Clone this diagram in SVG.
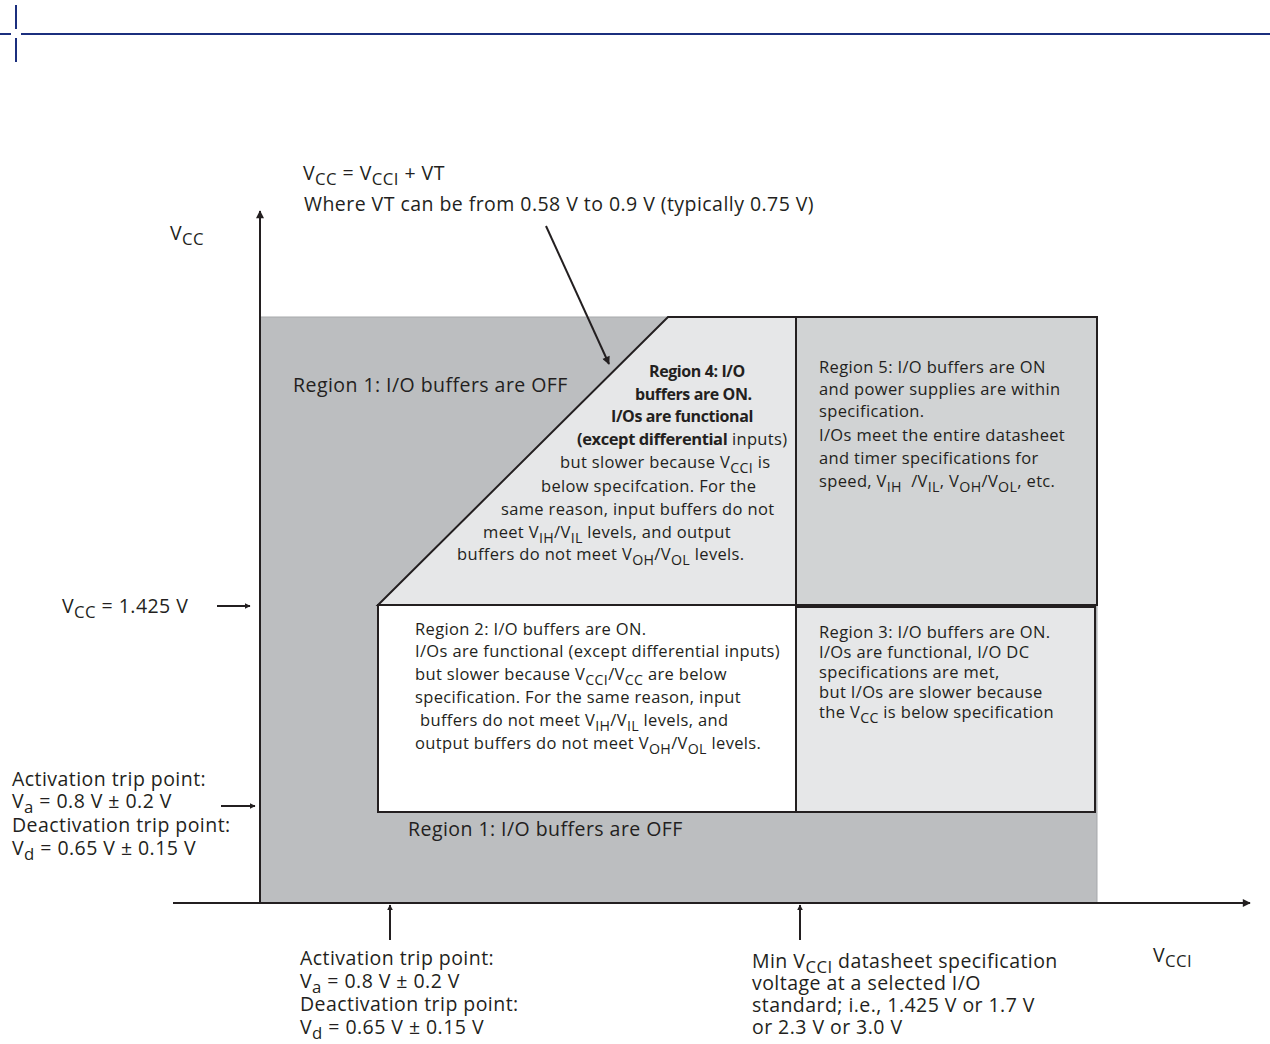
<svg xmlns="http://www.w3.org/2000/svg" width="1270" height="1044" viewBox="0 0 1270 1044">
<defs>
<style>
text{font-family:"Open Sans","Noto Sans","Liberation Sans",sans-serif;fill:#231f20}
.big{font-size:19.5px;letter-spacing:0.45px}
.mid{font-size:16.5px;letter-spacing:0.35px}
.b{font-weight:bold;font-size:16px;letter-spacing:-0.4px}
tspan.b{font-size:1em}
.s{font-size:0.86em}
.ax{stroke:#231f20;stroke-width:2;fill:none}
.rg{stroke:#231f20;stroke-width:2}
</style>
<marker id="ah" viewBox="0 0 10 10" refX="9" refY="5" markerWidth="6" markerHeight="6" markerUnits="userSpaceOnUse" orient="auto">
<path d="M0,0 L10,5 L0,10 z" fill="#231f20"/>
</marker>
<marker id="ahs" viewBox="0 0 10 10" refX="9" refY="5" markerWidth="14" markerHeight="8" orient="auto" markerUnits="userSpaceOnUse">
<path d="M0,0 L10,5 L0,10 z" fill="#231f20"/>
</marker>
</defs>
<rect width="1270" height="1044" fill="#fff"/>

<g id="header">
<line x1="0" y1="34" x2="11" y2="34" stroke="#1b2f7e" stroke-width="2"/>
<line x1="21" y1="34" x2="1270" y2="34" stroke="#1b2f7e" stroke-width="2"/>
<line x1="16" y1="5" x2="16" y2="29" stroke="#1b2f7e" stroke-width="2"/>
<line x1="16" y1="38" x2="16" y2="62" stroke="#1b2f7e" stroke-width="2"/>
</g>

<g id="region1">
<rect x="260" y="317" width="837" height="586" fill="#bcbec0" stroke="#a7a9ac" stroke-width="1"/>
<text class="big" x="293" y="392">Region 1: I/O buffers are OFF</text>
<text class="big" x="408" y="836">Region 1: I/O buffers are OFF</text>
</g>

<g id="region4">
<polygon points="668,317 796,317 796,605 378,605" fill="#e6e7e8" class="rg"/>
<text class="mid b" x="649" y="377">Region 4: I/O</text>
<text class="mid b" x="635" y="400">buffers are ON.</text>
<text class="mid b" x="611" y="422">I/Os are functional</text>
<text class="mid" x="577" y="445"><tspan class="b">(except differential</tspan> inputs)</text>
<text class="mid" x="560" y="468">but slower because V<tspan class="s" dy="5">CCI</tspan><tspan dy="-5"> is</tspan></text>
<text class="mid" x="541" y="492">below specifcation. For the</text>
<text class="mid" x="501" y="515">same reason, input buffers do not</text>
<text class="mid" x="483" y="538">meet V<tspan class="s" dy="5">IH</tspan><tspan dy="-5">/V</tspan><tspan class="s" dy="5">IL</tspan><tspan dy="-5"> levels, and output</tspan></text>
<text class="mid" x="457" y="560">buffers do not meet V<tspan class="s" dy="5">OH</tspan><tspan dy="-5">/V</tspan><tspan class="s" dy="5">OL</tspan><tspan dy="-5"> levels.</tspan></text>
</g>

<g id="region5">
<rect x="796" y="317" width="301" height="288" fill="#d1d3d4" class="rg"/>
<text class="mid" x="819" y="373">Region 5: I/O buffers are ON</text>
<text class="mid" x="819" y="395">and power supplies are within</text>
<text class="mid" x="819" y="417">specification.</text>
<text class="mid" x="819" y="441">I/Os meet the entire datasheet</text>
<text class="mid" x="819" y="464">and timer specifications for</text>
<text class="mid" x="819" y="487">speed, V<tspan class="s" dy="5">IH</tspan><tspan dy="-5">&#160;&#160;/V</tspan><tspan class="s" dy="5">IL</tspan><tspan dy="-5">, V</tspan><tspan class="s" dy="5">OH</tspan><tspan dy="-5">/V</tspan><tspan class="s" dy="5">OL</tspan><tspan dy="-5">, etc.</tspan></text>
</g>

<g id="region2">
<rect x="378" y="605" width="418" height="207" fill="#ffffff" class="rg"/>
<text class="mid" x="415" y="635">Region 2: I/O buffers are ON.</text>
<text class="mid" x="415" y="657">I/Os are functional (except differential inputs)</text>
<text class="mid" x="415" y="680">but slower because V<tspan class="s" dy="5">CCI</tspan><tspan dy="-5">/V</tspan><tspan class="s" dy="5">CC</tspan><tspan dy="-5"> are below</tspan></text>
<text class="mid" x="415" y="703">specification. For the same reason, input</text>
<text class="mid" x="420" y="726">buffers do not meet V<tspan class="s" dy="5">IH</tspan><tspan dy="-5">/V</tspan><tspan class="s" dy="5">IL</tspan><tspan dy="-5"> levels, and</tspan></text>
<text class="mid" x="415" y="749">output buffers do not meet V<tspan class="s" dy="5">OH</tspan><tspan dy="-5">/V</tspan><tspan class="s" dy="5">OL</tspan><tspan dy="-5"> levels.</tspan></text>
</g>

<g id="region3">
<rect x="796" y="607" width="299" height="205" fill="#e6e7e8" class="rg"/>
<text class="mid" x="819" y="638">Region 3: I/O buffers are ON.</text>
<text class="mid" x="819" y="658">I/Os are functional, I/O DC</text>
<text class="mid" x="819" y="678">specifications are met,</text>
<text class="mid" x="819" y="698">but I/Os are slower because</text>
<text class="mid" x="819" y="718">the V<tspan class="s" dy="5">CC</tspan><tspan dy="-5"> is below specification</tspan></text>
</g>

<g id="connectors">
<line class="ax" x1="260" y1="903" x2="260" y2="211" marker-end="url(#ahs)"/>
<line class="ax" x1="173" y1="903" x2="1250" y2="903" marker-end="url(#ahs)"/>
<line x1="546" y1="226" x2="609" y2="364" stroke="#231f20" stroke-width="2" marker-end="url(#ahs)"/>
<line x1="217" y1="606" x2="250" y2="606" stroke="#231f20" stroke-width="2" marker-end="url(#ah)"/>
<line x1="221" y1="806" x2="255" y2="806" stroke="#231f20" stroke-width="2" marker-end="url(#ah)"/>
<line x1="390" y1="940" x2="390" y2="905" stroke="#231f20" stroke-width="2" marker-end="url(#ah)"/>
<line x1="800" y1="940" x2="800" y2="905" stroke="#231f20" stroke-width="2" marker-end="url(#ah)"/>
</g>

<g id="labels">
<text class="big" x="303" y="180">V<tspan class="s" dy="5">CC</tspan><tspan dy="-5"> = V</tspan><tspan class="s" dy="5">CCI</tspan><tspan dy="-5"> + VT</tspan></text>
<text class="big" x="304" y="211">Where VT can be from 0.58 V to 0.9 V (typically 0.75 V)</text>
<text class="big" x="170" y="240">V<tspan class="s" dy="5">CC</tspan></text>
<text class="big" x="62" y="613">V<tspan class="s" dy="5">CC</tspan><tspan dy="-5"> = 1.425 V</tspan></text>
<text class="big" x="12" y="786">Activation trip point:</text>
<text class="big" x="12" y="808">V<tspan class="s" dy="5">a</tspan><tspan dy="-5"> = 0.8 V ± 0.2 V</tspan></text>
<text class="big" x="12" y="832">Deactivation trip point:</text>
<text class="big" x="12" y="855">V<tspan class="s" dy="5">d</tspan><tspan dy="-5"> = 0.65 V ± 0.15 V</tspan></text>
<text class="big" x="300" y="965">Activation trip point:</text>
<text class="big" x="300" y="988">V<tspan class="s" dy="5">a</tspan><tspan dy="-5"> = 0.8 V ± 0.2 V</tspan></text>
<text class="big" x="300" y="1011">Deactivation trip point:</text>
<text class="big" x="300" y="1034">V<tspan class="s" dy="5">d</tspan><tspan dy="-5"> = 0.65 V ± 0.15 V</tspan></text>
<text class="big" x="752" y="968">Min V<tspan class="s" dy="5">CCI</tspan><tspan dy="-5"> datasheet specification</tspan></text>
<text class="big" x="752" y="990">voltage at a selected I/O</text>
<text class="big" x="752" y="1012">standard; i.e., 1.425 V or 1.7 V</text>
<text class="big" x="752" y="1034">or 2.3 V or 3.0 V</text>
<text class="big" x="1153" y="962">V<tspan class="s" dy="5">CCI</tspan></text>
</g>
</svg>
